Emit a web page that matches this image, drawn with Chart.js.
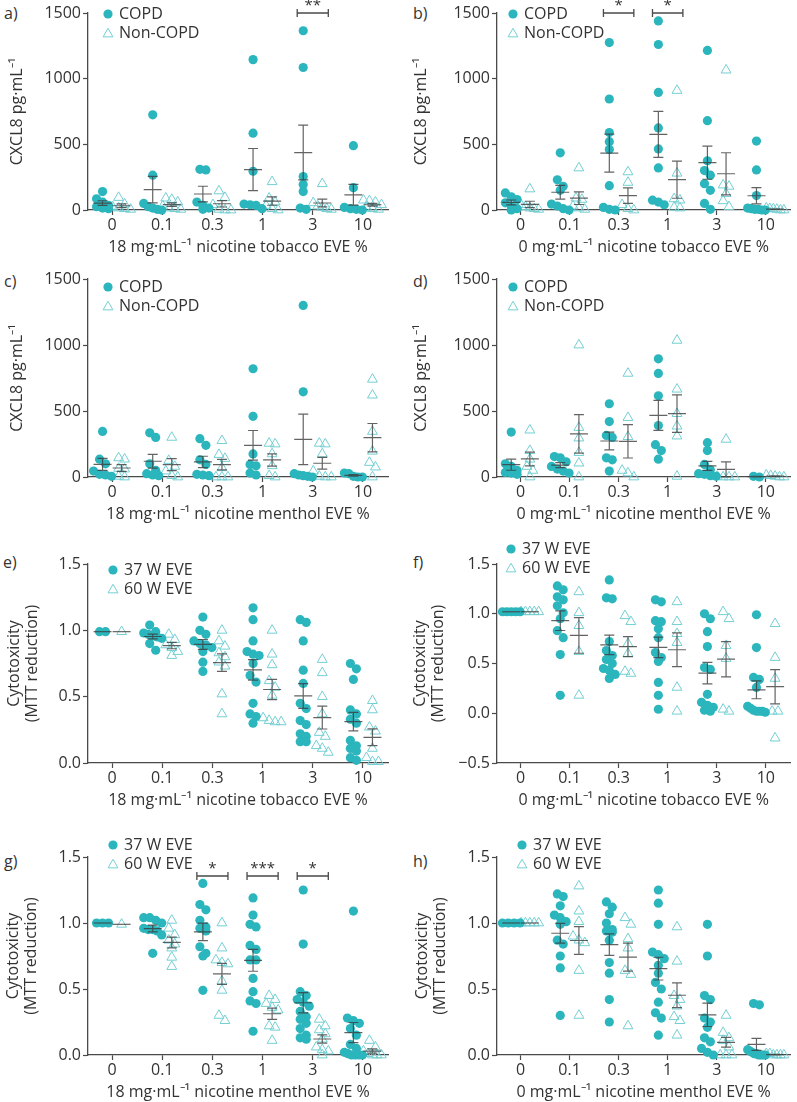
<!DOCTYPE html>
<html>
<head>
<meta charset="utf-8">
<script src="https://cdn.jsdelivr.net/npm/chart.js@4.4.1/dist/chart.umd.min.js"></script>
<style>
  body { margin: 0; background: #fff; width: 797px; height: 1102px; position: relative; overflow: hidden; }
  canvas { position: absolute; }
  .lab { position: absolute; font: 16px 'Open Sans', sans-serif; line-height: 18px; color: #333; }
</style>
</head>
<body>
<div class="lab" style="left:4px;top:4px">a)</div>
<div class="lab" style="left:413px;top:4px">b)</div>
<div class="lab" style="left:4px;top:272px">c)</div>
<div class="lab" style="left:413px;top:272px">d)</div>
<div class="lab" style="left:3px;top:553px">e)</div>
<div class="lab" style="left:413px;top:553px">f)</div>
<div class="lab" style="left:4px;top:852px">g)</div>
<div class="lab" style="left:413px;top:852px">h)</div>
<script>
const doses = ['0', '0.1', '0.3', '1', '3', '10'];

// CXCL8 pg/mL, one array per dose
const copdA = [
  [140, 85, 60, 35, 25, 15, 10],
  [725, 265, 50, 25, 15, 5, 0],
  [310, 305, 60, 35, 15, 5],
  [1145, 585, 295, 45, 40, 35, 10],
  [1365, 1085, 255, 195, 140, 15, 5],
  [490, 170, 20, 10, 5, 0]
];
const nonA = [
  [95, 45, 25, 15, 10, 5],
  [90, 80, 60, 30, 15, 10, 5],
  [145, 95, 40, 5, 0, 0],
  [215, 90, 60, 35, 10, 0],
  [200, 55, 30, 20, 10, 5],
  [75, 70, 60, 40, 20, 10, 5]
];
const copdB = [
  [130, 100, 80, 55, 30, 10, 0],
  [435, 230, 180, 150, 45, 30, 10, 0],
  [1275, 845, 590, 520, 460, 185, 20, 5, 0],
  [1440, 1260, 895, 625, 465, 320, 75, 60, 40],
  [1215, 680, 375, 300, 265, 200, 150, 50, 5],
  [525, 305, 110, 15, 10, 5, 5, 0, 0]
];
const nonB = [
  [160, 40, 25, 15, 10, 5],
  [320, 90, 80, 30, 15, 5],
  [290, 210, 40, 10, 0],
  [910, 280, 85, 75, 20, 15],
  [1065, 190, 180, 125, 70, 25],
  [15, 10, 8, 5, 0, 0]
];
const copdC = [
  [345, 135, 100, 45, 20, 15, 5],
  [335, 300, 100, 50, 25, 15, 10],
  [290, 240, 130, 95, 20, 15, 10],
  [820, 460, 175, 95, 85, 30, 15],
  [1300, 645, 25, 15, 10, 5, 0],
  [30, 25, 5, 0, 0]
];
const nonC = [
  [145, 135, 65, 60, 5, 0],
  [300, 125, 80, 45, 10, 0],
  [275, 170, 140, 70, 0, 0, 0],
  [255, 250, 175, 85, 10, 0],
  [255, 250, 175, 45, 5, 0, 0],
  [740, 620, 345, 195, 110, 75, 0]
];
const copdD = [
  [340, 100, 80, 50, 35, 30, 20],
  [155, 145, 115, 80, 60, 45, 30],
  [555, 420, 315, 300, 145, 130, 45],
  [895, 785, 615, 390, 245, 200, 135],
  [260, 200, 95, 55, 25, 20, 10, 5],
  [5, 0]
];
const nonD = [
  [355, 200, 135, 80, 50, 0],
  [1000, 375, 295, 185, 105, 0],
  [785, 450, 305, 50, 30, 0],
  [1035, 665, 480, 385, 310, 5],
  [285, 5, 0, 0, 0],
  [15, 10, 5, 0, 0]
];

// cytotoxicity (MTT reduction), 37 W vs 60 W
const w37E = [
  [0.99, 0.99],
  [1.04, 0.99, 0.98, 0.97, 0.96, 0.95, 0.94, 0.90, 0.85],
  [1.10, 1.00, 0.97, 0.92, 0.90, 0.89, 0.87, 0.84, 0.76, 0.69],
  [1.17, 1.08, 0.92, 0.84, 0.82, 0.81, 0.75, 0.66, 0.61, 0.45, 0.37, 0.35, 0.30],
  [1.08, 1.06, 0.92, 0.70, 0.60, 0.45, 0.41, 0.32, 0.29, 0.22, 0.20, 0.16, 0.16],
  [0.75, 0.71, 0.63, 0.40, 0.37, 0.33, 0.30, 0.17, 0.13, 0.11, 0.09, 0.04, 0.02]
];
const w60E = [
  [0.99],
  [0.97, 0.93, 0.89, 0.87, 0.84, 0.81],
  [1.00, 0.92, 0.88, 0.83, 0.80, 0.76, 0.73, 0.52, 0.37],
  [1.00, 0.82, 0.74, 0.62, 0.57, 0.51, 0.34, 0.32, 0.31, 0.31],
  [0.78, 0.68, 0.50, 0.37, 0.23, 0.20, 0.13, 0.11, 0.08],
  [0.47, 0.40, 0.27, 0.24, 0.11, 0.04, 0.01, 0.01]
];
const w37F = [
  [1.02, 1.02, 1.02, 1.02, 1.02],
  [1.28, 1.24, 1.17, 1.14, 1.08, 1.01, 0.95, 0.83, 0.76, 0.59, 0.18],
  [1.34, 1.16, 1.15, 0.72, 0.63, 0.58, 0.54, 0.50, 0.45, 0.43, 0.39, 0.35],
  [1.14, 1.12, 0.93, 0.92, 0.85, 0.76, 0.61, 0.56, 0.52, 0.31, 0.18, 0.04],
  [1.00, 0.95, 0.82, 0.67, 0.46, 0.44, 0.19, 0.11, 0.08, 0.06, 0.03, 0.02],
  [0.99, 0.66, 0.36, 0.34, 0.26, 0.07, 0.05, 0.03, 0.02, 0.02, 0.02, 0.01]
];
const w60F = [
  [1.02, 1.02, 1.02, 1.02, 1.02],
  [1.22, 1.01, 0.88, 0.62, 0.18],
  [0.98, 0.92, 0.70, 0.60, 0.42, 0.40],
  [1.12, 0.92, 0.80, 0.71, 0.26, 0.02],
  [1.02, 0.95, 0.68, 0.55, 0.04, 0.02],
  [0.90, 0.56, 0.35, 0.02, 0.02, -0.25]
];
const w37G = [
  [1.0, 1.0, 1.0],
  [1.04, 1.04, 1.02, 1.00, 0.96, 0.95, 0.95, 0.94, 0.91, 0.77],
  [1.30, 1.14, 1.10, 1.02, 0.97, 0.96, 0.94, 0.82, 0.77, 0.75, 0.49],
  [1.19, 1.06, 0.99, 0.97, 0.83, 0.80, 0.72, 0.72, 0.58, 0.48, 0.41, 0.39, 0.18],
  [1.25, 0.84, 0.48, 0.45, 0.42, 0.40, 0.37, 0.33, 0.29, 0.27, 0.24, 0.20, 0.15, 0.13, 0.12],
  [1.09, 0.28, 0.26, 0.24, 0.20, 0.15, 0.08, 0.05, 0.02, 0.01, 0.0, 0.0, 0.0, 0.0]
];
const w60G = [
  [0.99],
  [1.02, 0.96, 0.91, 0.87, 0.84, 0.81, 0.74, 0.67],
  [1.00, 0.81, 0.72, 0.70, 0.69, 0.56, 0.49, 0.30, 0.26],
  [0.45, 0.42, 0.39, 0.36, 0.34, 0.22, 0.21, 0.11],
  [0.27, 0.22, 0.19, 0.16, 0.12, 0.06, 0.04, 0.03, 0.0],
  [0.11, 0.06, 0.03, 0.01, 0.0, 0.0, 0.0]
];
const w37H = [
  [1.0, 1.0, 1.0, 1.0],
  [1.22, 1.20, 1.13, 1.06, 1.04, 1.01, 0.99, 0.87, 0.84, 0.75, 0.66, 0.30],
  [1.16, 1.12, 1.07, 1.00, 0.95, 0.94, 0.93, 0.87, 0.70, 0.62, 0.42, 0.25],
  [1.25, 1.15, 0.99, 0.78, 0.76, 0.73, 0.68, 0.62, 0.55, 0.50, 0.40, 0.32, 0.28, 0.15],
  [0.99, 0.75, 0.45, 0.42, 0.28, 0.25, 0.21, 0.13, 0.10, 0.05, 0.02, 0.0],
  [0.39, 0.38, 0.04, 0.03, 0.02, 0.01, 0.01, 0.0, 0.0, 0.0, 0.0]
];
const w60H = [
  [1.0, 1.0, 1.0, 1.0, 1.0],
  [1.28, 1.09, 1.01, 0.90, 0.87, 0.85, 0.64, 0.30],
  [1.04, 0.99, 0.88, 0.81, 0.64, 0.61, 0.22],
  [0.97, 0.71, 0.45, 0.42, 0.37, 0.29, 0.26, 0.15],
  [0.30, 0.17, 0.13, 0.11, 0.06, 0.0, 0.0, 0.0],
  [0.01, 0.01, 0.0, 0.0, 0.0, 0.0]
];

const TEAL = '#2bb5bc';
const TEAL_LIGHT = '#74cfd3';
const INK = '#333333';
const AXIS = '#4a4a4a';
const FAM = "'Open Sans', sans-serif";
const FS = 16;
const OFFS = [-0.19, 0.19];
const XMIN = -0.48, XMAX = 5.5;
const SUP = 'mg\u00B7mL\u207B\u00B9';
const cxcl = 'CXCL8 pg\u00B7mL\u207B\u00B9';
const cyto = ['Cytotoxicity', '(MTT reduction)'];

const L = {cx: 0, w: 400, left: 88, right: 388};
const R = {cx: 400, w: 397, left: 497, right: 797};
const ROWS = [
  {cy: 0, top: 13, bottom: 210},
  {cy: 250, top: 279, bottom: 477},
  {cy: 528, top: 564, bottom: 763},
  {cy: 822, top: 857, bottom: 1055}
];

const panels = [
  {col: L, row: 0, g1: copdA, g2: nonA, names: ['COPD', 'Non-COPD'], ymin: 0, ymax: 1500, step: 500, ytitle: cxcl, tx: 18,
   xtitle: '18 ' + SUP + ' nicotine tobacco EVE %', leg: [20, 1], brackets: [{i: 4, t: '**'}], by: 1500},
  {col: R, row: 0, g1: copdB, g2: nonB, names: ['COPD', 'Non-COPD'], ymin: 0, ymax: 1500, step: 500, ytitle: cxcl, tx: 422,
   xtitle: '0 ' + SUP + ' nicotine tobacco EVE %', leg: [16, 1], brackets: [{i: 2, t: '*'}, {i: 3, t: '*'}], by: 1500},
  {col: L, row: 1, g1: copdC, g2: nonC, names: ['COPD', 'Non-COPD'], ymin: 0, ymax: 1500, step: 500, ytitle: cxcl, tx: 18,
   xtitle: '18 ' + SUP + ' nicotine menthol EVE %', leg: [20, 8], brackets: []},
  {col: R, row: 1, g1: copdD, g2: nonD, names: ['COPD', 'Non-COPD'], ymin: 0, ymax: 1500, step: 500, ytitle: cxcl, tx: 422,
   xtitle: '0 ' + SUP + ' nicotine menthol EVE %', leg: [16, 8], brackets: []},
  {col: L, row: 2, g1: w37E, g2: w60E, names: ['37 W EVE', '60 W EVE'], ymin: 0, ymax: 1.5, step: 0.5, ytitle: cyto, tx: 14,
   xtitle: '18 ' + SUP + ' nicotine tobacco EVE %', leg: [25, 6], brackets: []},
  {col: R, row: 2, g1: w37F, g2: w60F, names: ['37 W EVE', '60 W EVE'], ymin: -0.5, ymax: 1.5, step: 0.5, ytitle: cyto, tx: 420,
   xtitle: '0 ' + SUP + ' nicotine tobacco EVE %', leg: [14, -15], brackets: []},
  {col: L, row: 3, g1: w37G, g2: w60G, names: ['37 W EVE', '60 W EVE'], ymin: 0, ymax: 1.5, step: 0.5, ytitle: cyto, tx: 13,
   xtitle: '18 ' + SUP + ' nicotine menthol EVE %', leg: [25, -12],
   brackets: [{i: 2, t: '*'}, {i: 3, t: '***'}, {i: 4, t: '*'}], by: 1.356},
  {col: R, row: 3, g1: w37H, g2: w60H, names: ['37 W EVE', '60 W EVE'], ymin: 0, ymax: 1.5, step: 0.5, ytitle: cyto, tx: 422,
   xtitle: '0 ' + SUP + ' nicotine menthol EVE %', leg: [25, -12], brackets: []}
];

function mean(a) { return a.reduce((s, v) => s + v, 0) / a.length; }
function sem(a) {
  if (a.length < 2) return 0;
  const m = mean(a);
  const sd = Math.sqrt(a.reduce((s, v) => s + (v - m) * (v - m), 0) / (a.length - 1));
  return sd / Math.sqrt(a.length);
}

// spread points that sit at nearly the same value side by side (like a scatter dot plot)
function swarm(vals, xc, yRange) {
  const upx = yRange / 197;
  const xpx = (XMAX - XMIN) / 300;
  const sorted = [...vals].sort((a, b) => b - a);
  const rows = [];
  sorted.forEach(v => {
    const r = rows[rows.length - 1];
    if (r && r[0] - v < 7 * upx) r.push(v); else rows.push([v]);
  });
  const pts = [];
  rows.forEach(r => {
    const n = r.length;
    const s = n > 1 ? Math.min(6, 18 / (n - 1)) : 0;
    r.forEach((v, k) => pts.push({x: xc + (k - (n - 1) / 2) * s * xpx, y: v}));
  });
  return pts;
}

function tri(ctx, x, y, r) {
  ctx.beginPath();
  ctx.moveTo(x, y - r);
  ctx.lineTo(x + r * 0.866, y + r / 2);
  ctx.lineTo(x - r * 0.866, y + r / 2);
  ctx.closePath();
  ctx.stroke();
}

function overlay(p) {
  return {
    id: 'overlay',
    afterDatasetsDraw(chart) {
      const {ctx, chartArea: ca} = chart;
      const xs = chart.scales.x, ys = chart.scales.y;
      ctx.save();
      // mean and SEM
      ctx.strokeStyle = 'rgba(60,60,60,0.8)';
      ctx.lineWidth = 1.2;
      [p.g1, p.g2].forEach((grp, gi) => {
        grp.forEach((vals, i) => {
          const m = mean(vals), e = sem(vals);
          const cx = xs.getPixelForValue(i + OFFS[gi]);
          const ym = ys.getPixelForValue(m);
          const y1 = ys.getPixelForValue(m - e), y2 = ys.getPixelForValue(m + e);
          ctx.beginPath();
          ctx.moveTo(cx - 9, ym); ctx.lineTo(cx + 9, ym);
          if (e > 0) {
            ctx.moveTo(cx, y1); ctx.lineTo(cx, y2);
            ctx.moveTo(cx - 5, y1); ctx.lineTo(cx + 5, y1);
            ctx.moveTo(cx - 5, y2); ctx.lineTo(cx + 5, y2);
          }
          ctx.stroke();
        });
      });
      // significance brackets
      ctx.strokeStyle = AXIS;
      ctx.lineWidth = 1.3;
      ctx.fillStyle = INK;
      ctx.font = '15px ' + FAM;
      ctx.textAlign = 'center';
      ctx.textBaseline = 'middle';
      p.brackets.forEach(b => {
        const xa = xs.getPixelForValue(b.i - 0.31), xb = xs.getPixelForValue(b.i + 0.31);
        const yb = ys.getPixelForValue(p.by);
        ctx.beginPath();
        ctx.moveTo(xa, yb); ctx.lineTo(xb, yb);
        ctx.moveTo(xa, yb - 4); ctx.lineTo(xa, yb + 4);
        ctx.moveTo(xb, yb - 4); ctx.lineTo(xb, yb + 4);
        ctx.stroke();
        ctx.fillText(b.t, (xa + xb) / 2, yb - 7);
      });
      // legend
      const lx = ca.left + p.leg[0], ly = ca.top + p.leg[1];
      ctx.fillStyle = TEAL;
      ctx.beginPath();
      ctx.arc(lx, ly, 4.6, 0, Math.PI * 2);
      ctx.fill();
      ctx.strokeStyle = TEAL_LIGHT;
      ctx.lineWidth = 1;
      tri(ctx, lx, ly + 20, 5.7);
      ctx.fillStyle = INK;
      ctx.font = FS + 'px ' + FAM;
      ctx.textAlign = 'left';
      ctx.fillText(p.names[0], lx + 11, ly);
      ctx.fillText(p.names[1], lx + 11, ly + 19);
      ctx.restore();
    }
  };
}

function makePanel(p) {
  const col = p.col, row = ROWS[p.row];
  const h = row.bottom + 51 - row.cy;
  const multi = Array.isArray(p.ytitle);
  const lhf = multi ? 1.15 : 1.2;
  const lh = FS * lhf;
  const padL = Math.max(0, Math.round(p.tx - col.cx - lh / 2 - 4));
  const cv = document.createElement('canvas');
  cv.width = col.w;
  cv.height = h;
  cv.style.left = col.cx + 'px';
  cv.style.top = row.cy + 'px';
  document.body.appendChild(cv);
  const yRange = p.ymax - p.ymin;
  const pts1 = [], pts2 = [];
  p.g1.forEach((vals, i) => pts1.push(...swarm(vals, i + OFFS[0], yRange)));
  p.g2.forEach((vals, i) => pts2.push(...swarm(vals, i + OFFS[1], yRange)));
  const yW = col.left - col.cx - padL;
  const tickFont = {family: FAM, size: FS};
  new Chart(cv, {
    type: 'scatter',
    data: {
      datasets: [
        {label: p.names[0], data: pts1, pointStyle: 'circle', pointRadius: 4.6, pointHoverRadius: 4.6,
         backgroundColor: TEAL, borderWidth: 0, clip: false},
        {label: p.names[1], data: pts2, pointStyle: 'triangle', pointRadius: 5.7, pointHoverRadius: 5.7,
         backgroundColor: 'rgba(0,0,0,0)', borderColor: TEAL_LIGHT, borderWidth: 1, clip: false}
      ]
    },
    options: {
      responsive: false,
      animation: false,
      devicePixelRatio: 1,
      events: [],
      layout: {padding: {left: padL, top: row.top - row.cy, right: col.cx + col.w - col.right, bottom: 0}},
      plugins: {legend: {display: false}, tooltip: {enabled: false}},
      scales: {
        x: {
          type: 'linear', min: XMIN, max: XMAX,
          afterBuildTicks: s => { s.ticks = doses.map((d, i) => ({value: i})); },
          afterFit: s => { s.height = 51; },
          ticks: {callback: v => doses[v], color: INK, font: tickFont, padding: 1, autoSkip: false, maxRotation: 0},
          grid: {drawOnChartArea: false, drawTicks: true, tickLength: 5, tickColor: AXIS, tickWidth: 1.2},
          border: {color: AXIS, width: 1.3},
          title: {display: true, text: p.xtitle, color: INK, font: {family: FAM, size: FS}, padding: {top: 4, bottom: 4}}
        },
        y: {
          min: p.ymin, max: p.ymax,
          afterFit: s => { s.width = yW; },
          ticks: {stepSize: p.step, color: INK, font: tickFont, padding: 2,
                  callback: v => (p.step < 1 ? v.toFixed(1) : String(v)).replace('-', '\u2212')},
          grid: {drawOnChartArea: false, drawTicks: true, tickLength: 5, tickColor: AXIS, tickWidth: 1.2},
          border: {color: AXIS, width: 1.3},
          title: {display: true, text: p.ytitle, color: INK,
                  font: {family: FAM, size: FS, lineHeight: lhf}, padding: {top: 4, bottom: 0}}
        }
      }
    },
    plugins: [overlay(p)]
  });
}

panels.forEach(makePanel);
</script>
</body>
</html>
